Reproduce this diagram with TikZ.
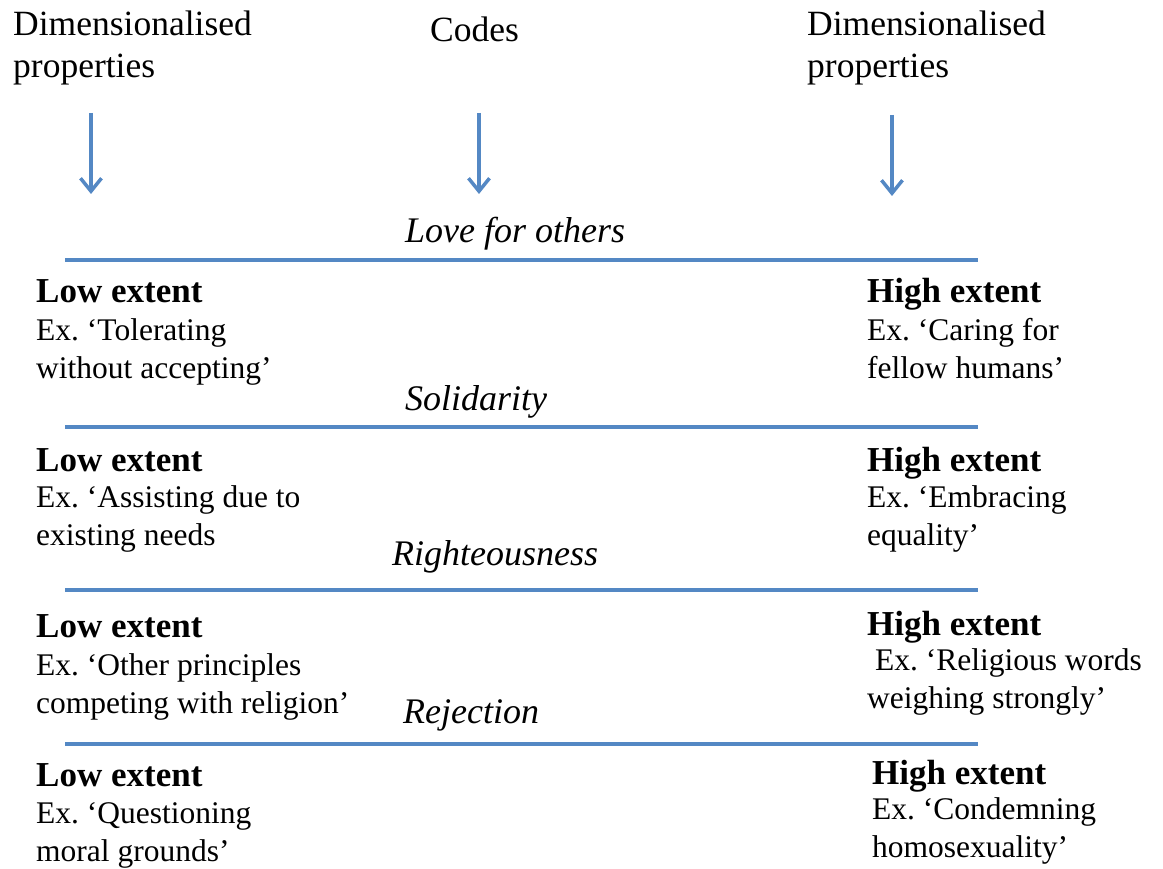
\documentclass[tikz,border=0pt]{standalone}
\usepackage{fontspec}
\setmainfont{Liberation Serif}
\usetikzlibrary{arrows.meta}
\usetikzlibrary{positioning}
\frenchspacing
\definecolor{barblue}{RGB}{84,136,196}
\tikzset{headtext/.style = {anchor=base west, inner sep=0pt, align=left,
                            font=\fontsize{35.5}{42}\selectfont},
         codelabel/.style = {anchor=base west, inner sep=0pt,
                             font=\fontsize{36}{42}\selectfont\itshape},
         extent/.style = {anchor=base west, inner sep=0pt,
                          font=\fontsize{35}{37}\selectfont\bfseries},
         example/.style = {anchor=base west, inner sep=0pt, align=left,
                           font=\fontsize{31.5}{37.5}\selectfont},
         divider/.style = {barblue, line width=4pt},
         downarrow/.style = {barblue, line width=3.5pt,
                             -{Straight Barb[length=13pt,width=21pt]}}}

\begin{document}
\begin{tikzpicture}[x=1pt, y=-1pt]
      \useasboundingbox (0, 0) rectangle (1163, 869);
      % column heads (base = last line)
      \node [headtext] (dimleft) at (13, 78) {Dimensionalised\\properties};
      \node [headtext] (codes) at (430, 42) {Codes};
      \node [headtext] (dimright) at (807, 78) {Dimensionalised\\properties};
      \coordinate (arrleft top) at (91, 113);
      \coordinate (arrleft end) at (91, 194);
      \coordinate (arrmid top) at (479, 113);
      \coordinate (arrmid end) at (479, 194);
      \coordinate (arrright top) at (892, 115);
      \coordinate (arrright end) at (892, 196);
      \draw [downarrow] (arrleft top) -- (arrleft end);
      \draw [downarrow] (arrmid top) -- (arrmid end);
      \draw [downarrow] (arrright top) -- (arrright end);
      % love for others
      \node [codelabel] (love) at (405, 243) {Love for others};
      \draw [divider] (65, 260) -- (978, 260);
      \node [extent] (lowlove) at (36, 303) {Low extent};
      \node [example] (exlowlove) at (36, 378) {Ex. ‘Tolerating\\without accepting’};
      \node [extent] (highlove) at (867, 303) {High extent};
      \node [example] (exhighlove) at (867, 378) {Ex. ‘Caring for\\fellow humans’};
      % solidarity
      \node [codelabel] (solid) at (405, 410) {Solidarity};
      \draw [divider] (65, 427) -- (978, 427);
      \node [extent] (lowsolid) at (36, 471) {Low extent};
      \node [example] (exlowsolid) at (36, 545) {Ex. ‘Assisting due to\\existing needs};
      \node [extent] (highsolid) at (867, 471) {High extent};
      \node [example] (exhighsolid) at (867, 545) {Ex. ‘Embracing\\equality’};
      % righteousness
      \node [codelabel] (right) at (392, 565) {Righteousness};
      \draw [divider] (65, 590) -- (978, 590);
      \node [extent] (lowright) at (36, 637) {Low extent};
      \node [example] (exlowright) at (36, 713) {Ex. ‘Other principles\\competing with religion’};
      \node [extent] (highright) at (867, 635) {High extent};
      \node [example] (exhighright) at (867, 708) {\ Ex. ‘Religious words\\weighing strongly’};
      % rejection
      \node [codelabel] (reject) at (403, 723) {Rejection};
      \draw [divider] (65, 744) -- (978, 744);
      \node [extent] (lowreject) at (36, 786) {Low extent};
      \node [example] (exlowreject) at (36, 861) {Ex. ‘Questioning\\moral grounds’};
      \node [extent] (highreject) at (872, 784) {High extent};
      \node [example] (exhighreject) at (872, 857) {Ex. ‘Condemning\\homosexuality’};
    \end{tikzpicture}
\end{document}
